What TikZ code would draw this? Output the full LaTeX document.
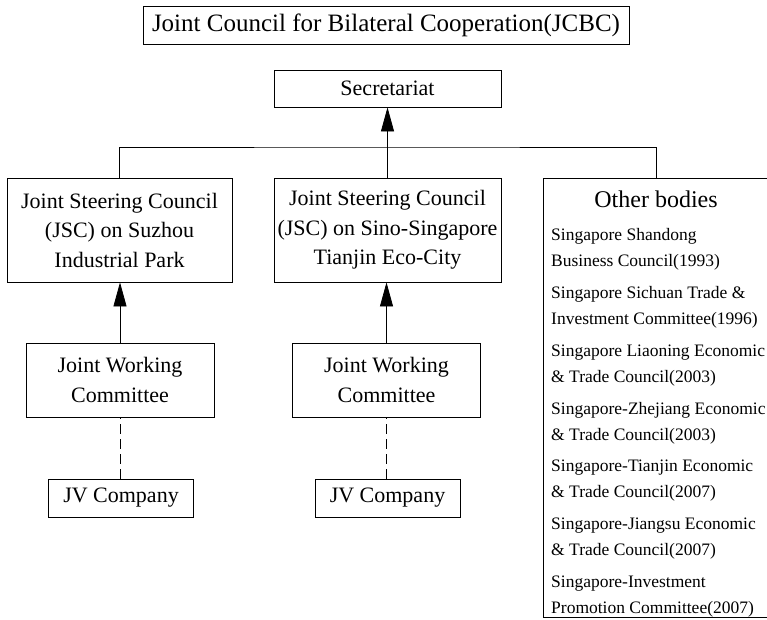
\documentclass[tikz,border=0pt]{standalone}
\usepackage{fontspec}
\setmainfont{Liberation Serif}
\usetikzlibrary{arrows.meta}

\tikzset{
  box/.style={draw, line width=0.8pt, align=center, inner sep=0pt,
    font=\fontsize{22}{29.5}\selectfont},
  item/.style={align=left, anchor=west, inner sep=0pt,
    font=\fontsize{17.5}{26}\selectfont},
  link/.style={line width=0.8pt},
  up/.style={link, -{Triangle[length=24pt, width=13pt]}},
  weak/.style={link, dash pattern=on 10pt off 5pt},
}

\begin{document}
\begin{tikzpicture}[x=1pt, y=-1pt]
\useasboundingbox (0,0) rectangle (767,619);

\node[box, font=\fontsize{25}{30}\selectfont, minimum width=486pt, minimum height=38pt] (jcbc) at (386, 25) {Joint Council for Bilateral Cooperation(JCBC)};

\node[box, minimum width=227pt, minimum height=37pt] (secr) at (387.5, 88.5) {Secretariat};

% steering councils
\node[box, minimum width=225pt, minimum height=104pt] (jsc1) at (119.5, 230) {Joint Steering Council\\(JSC) on Suzhou\\Industrial Park};
\node[box, minimum width=227pt, minimum height=104pt] (jsc2) at (387.5, 230) {Joint Steering Council\\(JSC) on Sino-Singapore\\Tianjin Eco-City};

% working committees and companies
\foreach \i/\x in {1/120, 2/386.5} {
  \node[box, minimum width=188pt, minimum height=74pt] (jwc\i) at (\x, 380) {Joint Working\\Committee};
  \node[box, minimum width=145pt, minimum height=38pt] (jv\i) at (\x+1, 498) {JV Company};
  \draw[up] (jwc\i.north) -- (jwc\i.north |- jsc\i.south);
  \draw[weak] (jv\i.north -| jwc\i.south) -- (jwc\i.south);
}

% other bodies
\node[draw, line width=0.8pt, inner sep=0pt, minimum width=226pt, minimum height=439pt] (other) at (656, 397.5) {};
\node[font=\fontsize{24}{29}\selectfont, inner sep=0pt] (otherhead) at (656, 199) {Other bodies};
\foreach \txt [count=\k] in {
  {Singapore Shandong\\Business Council(1993)},
  {Singapore Sichuan Trade \&\\Investment Committee(1996)},
  {Singapore Liaoning Economic\\\& Trade Council(2003)},
  {Singapore-Zhejiang Economic\\\& Trade Council(2003)},
  {Singapore-Tianjin Economic\\\& Trade Council(2007)},
  {Singapore-Jiangsu Economic\\\& Trade Council(2007)},
  {Singapore-Investment\\Promotion Committee(2007)}} {
  \node[item] (item\k) at (551, {249.5+57.8*(\k-1)}) {\txt};
}

% links to the secretariat
\coordinate (bus) at (386, 147);
\draw[link] (jsc1.north) |- (bus) -| (other.north);
\draw[up] (jsc2.north) -- (secr.south);
\end{tikzpicture}
\end{document}
